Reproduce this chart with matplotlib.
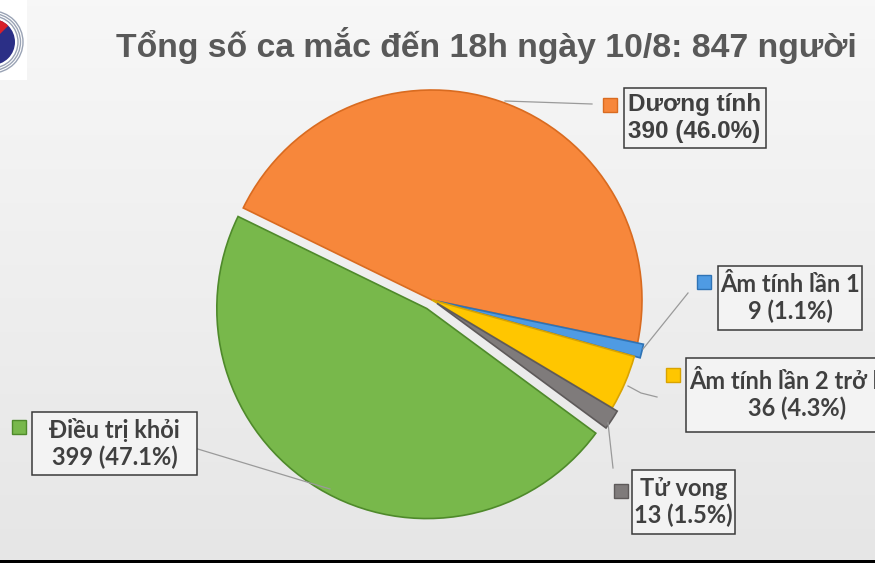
import numpy as np
import matplotlib
matplotlib.use("Agg")
import matplotlib.pyplot as plt
from matplotlib.patches import Rectangle, Circle, Wedge

# data
labels = ["Dương tính", "Âm tính lần 1", "Âm tính lần 2 trở lên", "Tử vong", "Điều trị khỏi"]
values = [390, 9, 36, 13, 399]
colors = ["#F7873B", "#4F9BE3", "#FFC600", "#7F7B7B", "#78B84B"]
edges = ["#D96B20", "#2F73B5", "#D9A300", "#5E5A5A", "#4F8A2B"]
explode = [0, 6, 0, 6, 10]  # in pixels, pie offsets are absolute
title = "Tổng số ca mắc đến 18h ngày 10/8: 847 người"

W, H = 875, 563
fig = plt.figure(figsize=(W / 100, H / 100), dpi=100)
ax = fig.add_axes([0, 0, 1, 1])

# background gradient
grad = np.linspace(0, 1, 100).reshape(-1, 1)
ax.imshow(grad, extent=[0, W, 0, H], cmap=matplotlib.colors.LinearSegmentedColormap.from_list(
    "bg", ["#e6e6e6", "#f7f7f7"]), origin="lower", aspect="auto", zorder=0)

def py(y):
    # pixel row -> axes y
    return H - y

wedges, _ = ax.pie(values, colors=colors, explode=explode, startangle=154,
                   counterclock=False, center=(432, py(300)), radius=210,
                   wedgeprops=dict(linewidth=1.2))
for w, ec in zip(wedges, edges):
    w.set_edgecolor(ec)
    w.set_zorder(2)

total = sum(values)
pct = [v / total * 100 for v in values]

# label boxes: (box x0, y0, x1, y1), marker (x, y), text align
boxes = [
    ((624, 88, 766, 148), (603, 98), "left"),
    ((718, 266, 862, 330), (697, 275), "center"),
    ((686, 358, 890, 432), (666, 368), "center"),
    ((632, 470, 735, 534), (614, 484), "center"),
    ((32, 412, 197, 475), (12, 420), "center"),
]
leaders = [
    [(505, 101), (592, 104)],
    [(643, 349), (688, 293)],
    [(628, 386), (641, 393), (657, 397)],
    [(608, 423), (613, 468)],
    [(168, 440), (330, 489)],
]
fonts = [["Liberation Sans", "DejaVu Sans"]] + [["Lato", "Noto Sans", "DejaVu Sans"]] * 4
sizes = [17.5, 17, 17, 17, 17]

for i in range(len(labels)):
    (x0, y0, x1, y1), (mx, my), ha = boxes[i]
    ax.add_patch(Rectangle((x0, py(y1)), x1 - x0, y1 - y0, facecolor="#f3f3f3",
                           edgecolor="#3a3a3a", linewidth=1.1, zorder=4))
    ax.add_patch(Rectangle((mx, py(my + 14)), 14, 14, facecolor=colors[i],
                           edgecolor=edges[i], linewidth=1, zorder=4))
    pts = leaders[i]
    ax.plot([p[0] for p in pts], [py(p[1]) for p in pts], color="#9a9a9a",
            linewidth=0.9, zorder=3)
    txt = "%s\n%d (%.1f%%)" % (labels[i], values[i], pct[i])
    tx = x0 + 4 if ha == "left" else (x0 + x1) / 2
    if i == 2:
        tx = 797
    ax.text(tx, py((y0 + y1) / 2), txt, ha=ha, va="center", fontsize=sizes[i],
            fontweight="bold", color="#404040", family=fonts[i],
            multialignment="center" if ha == "center" else "left",
            linespacing=1.2, zorder=5)

# title
ax.text(486, py(46), title, ha="center", va="center", fontsize=24.3,
        fontweight="bold", color="#595959",
        family=["Liberation Sans", "DejaVu Sans"], zorder=5)

# logo in corner
ax.add_patch(Rectangle((0, py(80)), 27, 80, facecolor="white", edgecolor="none", zorder=1))
for r in [31, 28.5, 26]:
    ax.add_patch(Circle((-8, py(42)), r, facecolor="none", edgecolor="#9aa3b5",
                        linewidth=1, zorder=2))
ax.add_patch(Circle((-8, py(42)), 23, facecolor="#2b2f86", edgecolor="none", zorder=2))
ax.add_patch(Wedge((-8, py(42)), 23, 45, 135, facecolor="#d8202a", edgecolor="none", zorder=2))

# bottom dark bar
ax.add_patch(Rectangle((0, 0), W, 3.5, facecolor="black", edgecolor="none", zorder=6))

ax.set_xlim(0, W)
ax.set_ylim(0, H)
ax.set_aspect("auto")
ax.axis("off")

fig.savefig("out.png", dpi=100)
